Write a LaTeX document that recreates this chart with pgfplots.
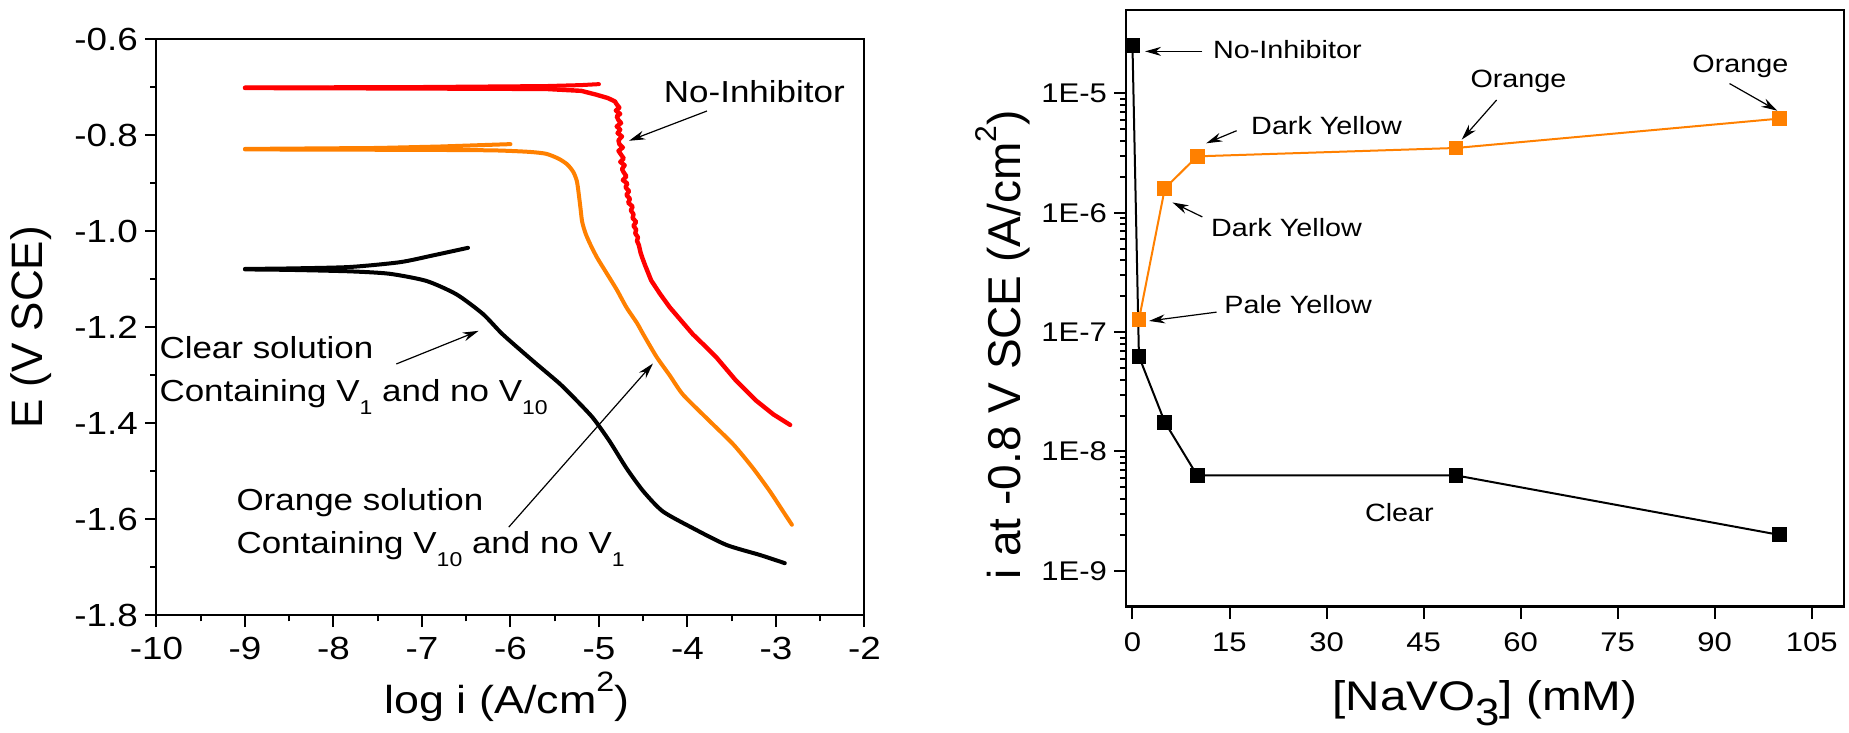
\documentclass[border=0pt]{standalone}
\usepackage{fontspec}
\setmainfont{Liberation Sans}[FakeStretch=1.15]
\newfontfamily\rotfont{Liberation Sans}
\usepackage{pgfplots}
\pgfplotsset{compat=1.18}
\usetikzlibrary{arrows.meta}
\definecolor{RedCurve}{HTML}{FF0000}
\definecolor{OrangeCurve}{HTML}{FF8000}

\newcommand\fs[1]{\fontsize{#1}{#1}\selectfont}
\tikzset{ann/.style={-{Stealth[length=8pt,width=4.5pt]},line width=0.6pt,black}}

\begin{document}
\begin{tikzpicture}
\useasboundingbox (0,0) rectangle (924.5pt,366.5pt);

% left: polarisation curves
\begin{axis}[
  at={(78.25pt,58.75pt)}, anchor=south west,
  scale only axis, width=354pt, height=288pt,
  xmin=-10, xmax=-2, ymin=-1.8, ymax=-0.6,
  xtick={-10,-9,...,-2},
  ytick={-1.8,-1.6,-1.4,-1.2,-1.0,-0.8,-0.6},
  minor x tick num=1, minor y tick num=1,
  tick align=outside, tick pos=left,
  major tick length=5.8pt, minor tick length=3pt,
  every tick/.style={line width=1pt,black},
  axis line style={line width=1pt},
  clip=false,
  /pgf/number format/assume math mode=true,
  tick label style={font=\fs{16}},
  xticklabel style={yshift=-1.5pt},
  yticklabel style={/pgf/number format/.cd,fixed,fixed zerofill,precision=1},
  xlabel={log i (A/cm\raisebox{11pt}{\fs{14}2})},
  xlabel style={at={(axis description cs:0.495,0)},anchor=base,yshift=-49pt,font=\fs{19.5}},
  ylabel={\rotfont E (V SCE)},
  ylabel style={at={(axis description cs:-0.177,0.5)},anchor=center,font=\fs{22}},
  every axis plot/.append style={line width=2pt,line join=round,line cap=round}
]
% no inhibitor
\addplot[RedCurve] coordinates {
 (-9,-0.700) (-7,-0.699) (-5.6,-0.697) (-5.2,-0.695) (-5.0,-0.693)};
\addplot[RedCurve,line width=2.2pt] coordinates {
 (-9,-0.701) (-7,-0.702) (-5.6,-0.703) (-5.2,-0.707) (-5.03,-0.715) (-4.90,-0.722)
 (-4.82,-0.729) (-4.80,-0.735) (-4.77,-0.742) (-4.81,-0.748) (-4.76,-0.755)
 (-4.80,-0.760) (-4.78,-0.768) (-4.75,-0.774) (-4.80,-0.781) (-4.76,-0.788)
 (-4.79,-0.795) (-4.74,-0.802) (-4.78,-0.810) (-4.77,-0.818) (-4.73,-0.825)
 (-4.78,-0.832) (-4.75,-0.840) (-4.72,-0.848) (-4.76,-0.855) (-4.71,-0.862)
 (-4.74,-0.870) (-4.72,-0.877) (-4.69,-0.885) (-4.73,-0.893) (-4.68,-0.900)
 (-4.70,-0.908) (-4.66,-0.916) (-4.69,-0.924) (-4.65,-0.932) (-4.67,-0.940)
 (-4.62,-0.948) (-4.64,-0.956) (-4.61,-0.964) (-4.62,-0.972) (-4.58,-0.980)
 (-4.61,-0.988) (-4.58,-0.996) (-4.59,-1.004) (-4.56,-1.012) (-4.57,-1.020)
 (-4.55,-1.028) (-4.54,-1.036) (-4.53,-1.044) (-4.51,-1.055) (-4.48,-1.070)
 (-4.41,-1.102) (-4.31,-1.130) (-4.20,-1.158) (-4.07,-1.186) (-3.94,-1.214)
 (-3.80,-1.239) (-3.67,-1.263) (-3.45,-1.311) (-3.22,-1.353) (-3.03,-1.381)
 (-2.84,-1.403)};
% orange solution
\addplot[OrangeCurve] coordinates {
 (-9,-0.828) (-7.5,-0.826) (-6.8,-0.823) (-6.0,-0.818)};
\addplot[OrangeCurve,smooth,tension=0.4] coordinates {
 (-9,-0.829) (-7,-0.830) (-6.2,-0.831) (-5.8,-0.834) (-5.6,-0.838) (-5.46,-0.848)
 (-5.36,-0.860) (-5.29,-0.876) (-5.25,-0.895) (-5.23,-0.920) (-5.21,-0.950)
 (-5.19,-0.980) (-5.15,-1.005) (-5.09,-1.030) (-5.02,-1.055) (-4.92,-1.085)
 (-4.80,-1.121) (-4.69,-1.158) (-4.57,-1.191) (-4.50,-1.214) (-4.35,-1.261)
 (-4.20,-1.300) (-4.05,-1.340) (-3.75,-1.395) (-3.48,-1.444) (-3.26,-1.493)
 (-3.07,-1.541) (-2.92,-1.583) (-2.82,-1.611)};
% clear solution
\addplot[black,smooth,tension=0.4] coordinates {
 (-9,-1.078) (-8.5,-1.077) (-7.82,-1.074) (-7.25,-1.064) (-6.88,-1.050) (-6.48,-1.034)};
\addplot[black,smooth,tension=0.4] coordinates {
 (-9,-1.079) (-8.5,-1.080) (-7.82,-1.083) (-7.37,-1.088) (-6.95,-1.103)
 (-6.61,-1.131) (-6.31,-1.172) (-6.09,-1.214) (-5.75,-1.269) (-5.45,-1.316)
 (-5.29,-1.345) (-5.07,-1.388) (-4.88,-1.437) (-4.69,-1.493) (-4.50,-1.541)
 (-4.28,-1.583) (-3.94,-1.618) (-3.56,-1.653) (-3.18,-1.674) (-2.90,-1.691)};

\node[anchor=base west,inner sep=0,font=\fs{15.2}] at (axis cs:-4.27,-0.732) {No-Inhibitor};
\draw[ann] (axis cs:-3.78,-0.749) -- (axis cs:-4.66,-0.811);
\node[anchor=base west,inner sep=0,font=\fs{15.2}] at (axis cs:-9.97,-1.264) {Clear solution};
\node[anchor=base west,inner sep=0,font=\fs{15.2}] at (axis cs:-9.97,-1.3546)
 {Containing V\raisebox{-6.5pt}{\fs{10}1} and no V\raisebox{-6.5pt}{\fs{10}10}};
\draw[ann] (axis cs:-7.29,-1.276) -- (axis cs:-6.36,-1.207);
\node[anchor=base west,inner sep=0,font=\fs{15.2}] at (axis cs:-9.10,-1.582) {Orange solution};
\node[anchor=base west,inner sep=0,font=\fs{15.2}] at (axis cs:-9.10,-1.670)
 {Containing V\raisebox{-6.5pt}{\fs{10}10} and no V\raisebox{-6.5pt}{\fs{10}1}};
\draw[ann] (axis cs:-6.02,-1.616) -- (axis cs:-4.39,-1.275);
\end{axis}

% right: current at -0.8 V vs concentration
\begin{axis}[
  at={(563pt,63.15pt)}, anchor=south west,
  scale only axis, width=359pt, height=298.35pt,
  ymode=log, xmin=-1, xmax=110, ymin=5e-10, ymax=5e-5,
  xtick={0,15,...,105},
  ytick={1e-9,1e-8,1e-7,1e-6,1e-5},
  yticklabels={1E-9,1E-8,1E-7,1E-6,1E-5},
  tick align=outside, tick pos=left,
  major tick length=6pt, minor tick length=3pt,
  every tick/.style={line width=1pt,black},
  axis line style={line width=1.3pt},
  clip=false,
  /pgf/number format/assume math mode=true,
  tick label style={font=\fs{13.5}},
  xticklabel style={yshift=-3.5pt},
  xlabel={[NaVO\raisebox{-7.5pt}{\fs{19}3}] (mM)},
  xlabel style={at={(axis description cs:0.5,0)},anchor=base,yshift=-52pt,font=\fs{20.7}},
  ylabel={\rotfont i at -0.8 V SCE (A/cm\raisebox{12pt}{\fs{15}2})},
  ylabel style={at={(axis description cs:-0.171,0.4386)},anchor=center,font=\fs{23}},
  every axis plot/.append style={line width=1pt,mark=square*,mark size=3.2pt,
    mark options={solid}}
]
\addplot[black,mark options={fill=black}] coordinates {
 (0,2.54e-5) (1,6.26e-8) (5,1.76e-8) (10,6.3e-9) (50,6.3e-9) (100,2.0e-9)};
\addplot[OrangeCurve,mark options={fill=OrangeCurve}] coordinates {
 (1,1.27e-7) (5,1.6e-6) (10,2.97e-6) (50,3.49e-6) (100,6.15e-6)};

\node[anchor=west,inner sep=0,font=\fs{12.5}] at (axis cs:12.4,2.34e-5) {No-Inhibitor};
\draw[ann] (axis cs:10.8,2.25e-5) -- (axis cs:1.95,2.25e-5);
\node[anchor=west,inner sep=0,font=\fs{12.5}] at (axis cs:52.2,1.26e-5) {Orange};
\draw[ann] (axis cs:56.3,8.81e-6) -- (axis cs:50.9,4.10e-6);
\node[anchor=west,inner sep=0,font=\fs{12.5}] at (axis cs:86.5,1.70e-5) {Orange};
\draw[ann] (axis cs:92.3,1.21e-5) -- (axis cs:99.7,7.16e-6);
\node[anchor=west,inner sep=0,font=\fs{12.5}] at (axis cs:18.3,5.33e-6) {Dark Yellow};
\draw[ann] (axis cs:16.1,4.87e-6) -- (axis cs:11.4,3.82e-6);
\node[anchor=west,inner sep=0,font=\fs{12.5}] at (axis cs:12.1,7.57e-7) {Dark Yellow};
\draw[ann] (axis cs:10.8,9.23e-7) -- (axis cs:6.19,1.22e-6);
\node[anchor=west,inner sep=0,font=\fs{12.5}] at (axis cs:14.15,1.69e-7) {Pale Yellow};
\draw[ann] (axis cs:13.0,1.47e-7) -- (axis cs:2.57,1.24e-7);
\node[anchor=west,inner sep=0,font=\fs{12.5}] at (axis cs:35.9,3.08e-9) {Clear};
\end{axis}
\end{tikzpicture}
\end{document}
